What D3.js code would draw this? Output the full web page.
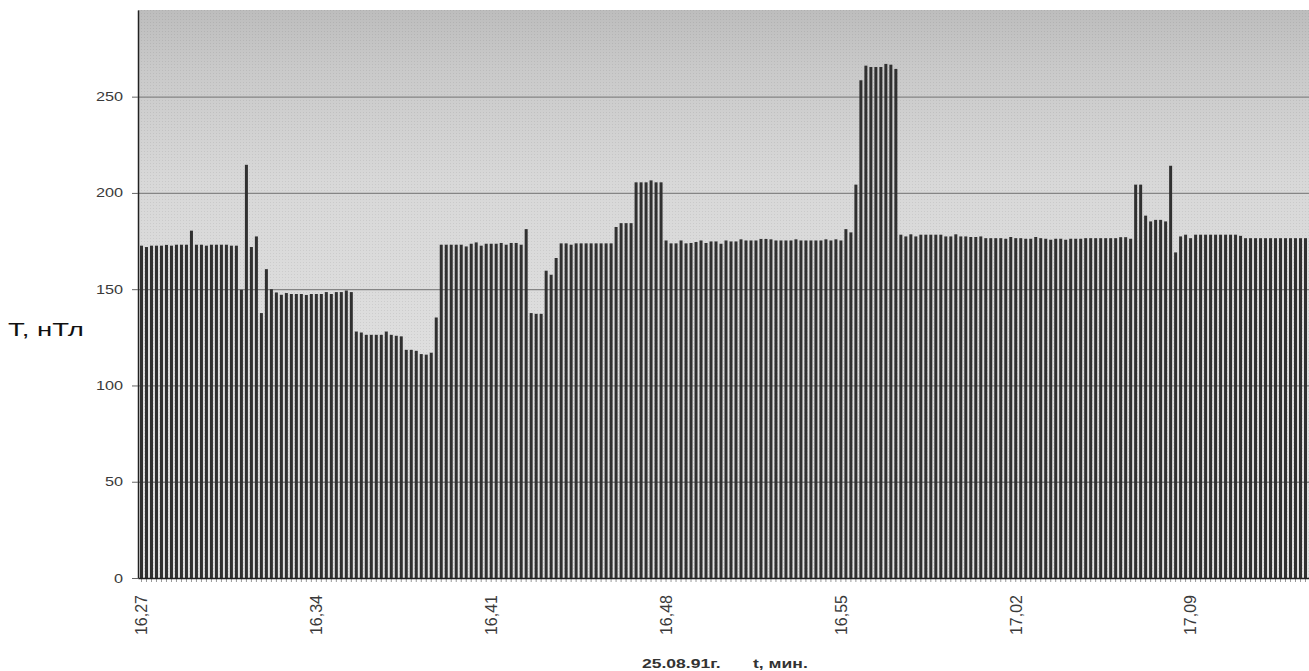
<!DOCTYPE html>
<html>
<head>
<meta charset="utf-8">
<script src="https://cdn.jsdelivr.net/npm/d3@7"></script>
<style>
  body { margin: 0; background: #fff; }
  svg { display: block; font-family: "Liberation Sans", Arial, sans-serif; }
</style>
</head>
<body>
<div id="container"></div>
<script>
// field values T (nT), one bar every 12 s, split into 7-minute blocks
const block1627 = [172.6, 171.9, 172.6, 172.6, 172.6, 173.0, 172.6, 173.1, 173.1, 173.1,
  180.4, 173.1, 173.1, 172.6, 173.1, 173.1, 173.1, 173.1, 172.6, 172.6,
  149.7, 214.6, 171.9, 177.4, 137.6, 160.4, 150.0, 148.3, 147.1, 148.0,
  147.5, 147.5, 147.5, 147.0, 147.5];
const block1634 = [147.5, 147.5, 148.5, 147.5, 148.5, 148.5, 149.3, 148.5, 128.0, 127.5,
  126.3, 126.3, 126.3, 126.3, 128.0, 126.3, 125.8, 125.5, 118.5, 118.5,
  118.0, 116.3, 116.0, 117.0, 135.3, 173.1, 173.1, 173.1, 173.1, 173.1,
  172.2, 173.6, 174.3, 172.6, 173.6];
const block1641 = [173.6, 173.6, 174.0, 173.1, 174.0, 174.0, 173.1, 181.2, 137.6, 137.2,
  137.2, 159.6, 157.5, 166.2, 173.8, 173.8, 173.1, 173.8, 173.8, 173.8,
  173.8, 173.8, 173.8, 173.8, 173.8, 182.3, 184.3, 184.3, 184.3, 205.5,
  205.5, 205.5, 206.5, 205.5, 205.5];
const block1648 = [175.3, 173.8, 173.8, 175.3, 173.8, 174.0, 174.5, 175.3, 174.0, 174.8,
  174.8, 173.6, 175.3, 174.8, 174.8, 175.9, 175.3, 175.3, 175.3, 176.1,
  176.1, 175.9, 175.3, 175.3, 175.3, 175.3, 175.9, 175.3, 175.3, 175.3,
  175.3, 175.3, 175.9, 175.3, 175.9];
const block1655 = [175.3, 181.2, 179.5, 204.3, 258.5, 266.1, 265.4, 265.4, 265.4, 267.0,
  266.6, 264.4, 178.3, 177.4, 178.5, 177.4, 178.3, 178.3, 178.3, 178.3,
  178.3, 177.4, 177.4, 178.5, 177.4, 177.4, 177.1, 177.1, 177.4, 176.5,
  176.5, 176.5, 176.5, 176.2, 177.1];
const block1702 = [176.5, 176.5, 176.2, 176.2, 177.1, 176.5, 176.2, 175.7, 176.2, 176.2,
  175.7, 176.2, 176.2, 176.2, 176.5, 176.5, 176.5, 176.5, 176.5, 176.5,
  176.5, 177.0, 177.0, 176.2, 204.3, 204.3, 188.2, 185.2, 186.0, 186.0,
  185.2, 214.1, 169.1, 177.4, 178.3];
const block1709 = [176.5, 178.3, 178.3, 178.3, 178.3, 178.3, 178.3, 178.3, 178.3, 178.3,
  177.7, 176.5, 176.5, 176.5, 176.5, 176.5, 176.5, 176.5, 176.5, 176.5,
  176.5, 176.5, 176.5, 176.5];

const fieldValues = [].concat(block1627, block1634, block1641, block1648, block1655, block1702, block1709);
const tickLabels = ["16,27", "16,34", "16,41", "16,48", "16,55", "17,02", "17,09"];
const barsPerTick = 35;
const yTicks = [0, 50, 100, 150, 200, 250];

// set the dimensions and margins of the graph
const margin = {top: 10, right: 0, bottom: 93, left: 138},
  width = 1309 - margin.left - margin.right,
  height = 671 - margin.top - margin.bottom;

const root = d3.select("#container")
.append("svg")
  .attr("width", width + margin.left + margin.right)
  .attr("height", height + margin.top + margin.bottom);

const svg = root.append("g")
  .attr("transform", `translate(${margin.left},${margin.top})`);

// grey scanned-paper background of the plot
const defs = root.append("defs");
const grad = defs.append("linearGradient")
  .attr("id", "bg").attr("x1", 0).attr("y1", 0).attr("x2", 0).attr("y2", 1);
[[0, "#bdbdbd"], [0.1, "#c9c9c9"], [0.3, "#d8d8d8"], [0.6, "#dedede"], [1, "#e0e0e0"]]
  .forEach(s => grad.append("stop").attr("offset", s[0]).attr("stop-color", s[1]));
const dots = defs.append("pattern")
  .attr("id", "dots").attr("width", 3).attr("height", 3)
  .attr("patternUnits", "userSpaceOnUse");
dots.append("rect").attr("width", 1).attr("height", 1).attr("fill", "#000").attr("opacity", 0.07);

svg.append("rect").attr("width", width).attr("height", height).attr("fill", "url(#bg)");
svg.append("rect").attr("width", width).attr("height", height).attr("fill", "url(#dots)");

// scales
const x = d3.scaleBand()
  .domain(d3.range(fieldValues.length))
  .range([0, width])
  .paddingInner(0.4)
  .paddingOuter(0.4);

const y = d3.scaleLinear()
  .domain([0, 295])
  .range([height, 0]);

// horizontal grid lines
svg.append("g")
  .attr("class", "grid")
  .call(d3.axisLeft(y).tickValues(yTicks.slice(1)).tickSize(-width).tickFormat(""))
  .call(g => g.select(".domain").remove())
  .call(g => g.selectAll("line").attr("stroke", "#858585").attr("stroke-width", 1.3));

// bars
svg.selectAll(".bar")
  .data(fieldValues)
  .join("rect")
    .attr("class", "bar")
    .attr("x", (d, i) => x(i))
    .attr("y", d => y(d))
    .attr("width", x.bandwidth())
    .attr("height", d => height - y(d))
    .attr("fill", "#303030");

// small ticks under every bar
svg.append("g")
  .attr("transform", `translate(0,${height})`)
  .call(d3.axisBottom(x).tickValues(x.domain()).tickSize(4).tickFormat(""))
  .call(g => g.select(".domain").remove())
  .call(g => g.selectAll("line").attr("stroke", "#9a9a9a"));

// x axis with time labels
const xAxis = svg.append("g")
  .attr("transform", `translate(0,${height})`)
  .call(d3.axisBottom(x)
    .tickValues(d3.range(0, fieldValues.length, barsPerTick))
    .tickFormat((d, i) => tickLabels[i])
    .tickSize(0)
    .tickSizeOuter(0));
xAxis.select(".domain").attr("stroke", "#222").attr("stroke-width", 1.5);
xAxis.selectAll("text")
  .attr("transform", "rotate(-90)")
  .attr("text-anchor", "end")
  .attr("x", -17)
  .attr("y", 0)
  .attr("dy", "0.36em")
  .style("font-size", "16px")
  .attr("fill", "#3a3a3a");

// y axis
const yAxis = svg.append("g")
  .call(d3.axisLeft(y).tickValues(yTicks).tickSize(6).tickSizeOuter(0));
yAxis.select(".domain").attr("stroke", "#222").attr("stroke-width", 1.5);
yAxis.selectAll("line").attr("stroke", "#666");
yAxis.selectAll("text")
  .attr("x", 0)
  .attr("transform", "translate(-15,0) scale(1.3,1)")
  .style("font-size", "12.5px")
  .attr("fill", "#3a3a3a");

// axis titles
root.append("text")
  .attr("transform", "translate(8,336) scale(1.45,1)")
  .style("font-size", "19px")
  .attr("fill", "#111")
  .text("Т, нТл");

root.append("text")
  .attr("transform", "translate(642,668) scale(1.3,1)")
  .style("font-size", "13.5px")
  .style("font-weight", "bold")
  .attr("fill", "#333")
  .text("25.08.91г.");

root.append("text")
  .attr("transform", "translate(753,668) scale(1.3,1)")
  .style("font-size", "13.5px")
  .style("font-weight", "bold")
  .attr("fill", "#333")
  .text("t, мин.");
</script>
</body>
</html>
